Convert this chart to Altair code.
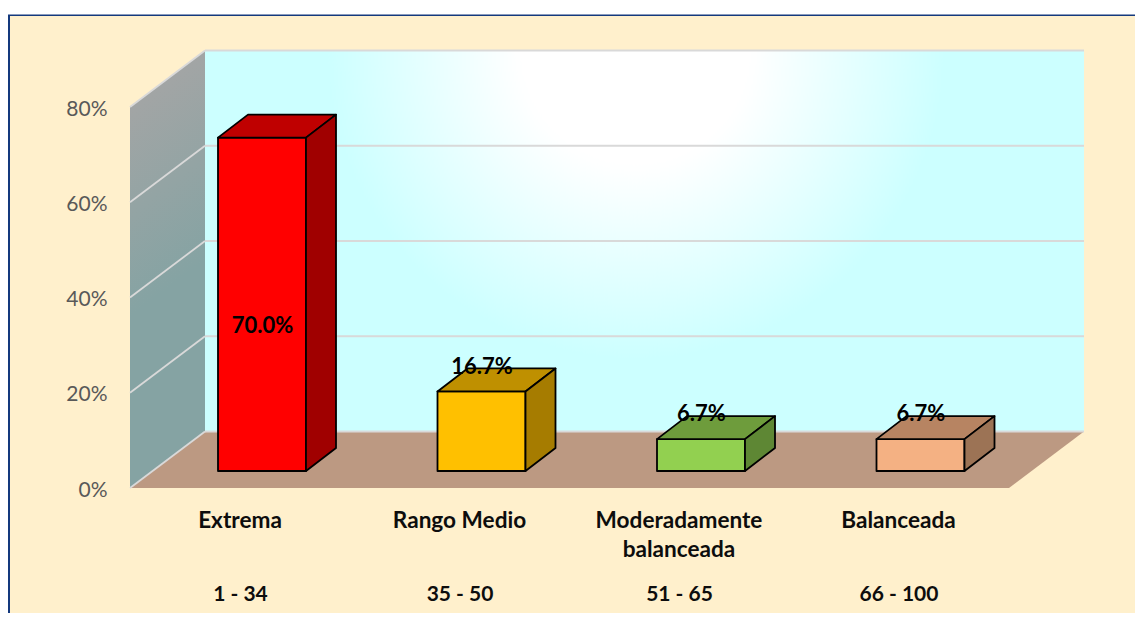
import altair as alt
import pandas as pd

# ---- chart values ----
categories = ["Extrema", "Rango Medio", "Moderadamente\nbalanceada", "Balanceada"]
ranges = ["1 - 34", "35 - 50", "51  - 65", "66 - 100"]
values = [70.0, 16.7, 6.7, 6.7]
value_labels = ["70.0%", "16.7%", "6.7%", "6.7%"]
label_heights = [30.4, 21.9, 11.9, 11.9]
front_colors = ["#FF0000", "#FFC000", "#92D050", "#F4B183"]
top_colors = ["#BF0000", "#BF9000", "#6E9C3C", "#B78462"]
side_colors = ["#A00000", "#A67C00", "#5E8734", "#9C7355"]
y_ticks = [0, 20, 40, 60, 80]

# ---- layout of the pseudo-3D box (page pixels) ----
W, H = 1127, 605
PPV = 381 / 80            # pixels per percentage point
Y0 = 488                  # page y of 0% on the front plane
X_FRONT, X_BACK, X_END = 130, 205, 1084
WALL_DV = 56.5 / PPV      # wall depth in value units
BAR_X = [218, 437.5, 657, 876.5]
BAR_W = 88
BAR_DX, BAR_DV = 30, 23 / PPV
BAR_BASE = (Y0 - 471) / PPV
FONT = "Lato"

x_scale = alt.Scale(domain=[8, 8 + W], range=[0, W], nice=False, zero=False)
y_scale = alt.Scale(domain=[(Y0 - 8 - H) / PPV, (Y0 - 8) / PPV], range=[H, 0], nice=False, zero=False)
y_axis = alt.Axis(
    values=y_ticks, labelExpr="datum.value + '%'", domain=False, ticks=False, grid=False,
    title=None, offset=-99, labelPadding=0, labelOffset=2, labelFont=FONT, labelFontSize=21,
    labelColor="#595959", labelFontWeight="normal", zindex=1,
)
X = alt.X("x:Q", scale=x_scale, axis=None)
Y = alt.Y("y:Q", scale=y_scale, axis=y_axis)
X2, Y2 = alt.X2("x2:Q"), alt.Y2("y2:Q")
v2p = lambda py: (Y0 - py) / PPV

panel = pd.DataFrame([
    {"x": 8, "x2": 8 + W, "y": v2p(14.5), "y2": v2p(8 + H), "c": "#14397D"},
    {"x": 10, "x2": 8 + W, "y": v2p(16), "y2": v2p(8 + H), "c": "#FFF0CC"},
])
panel_layer = alt.Chart(panel).mark_rect().encode(
    x=X, x2=X2, y=Y, y2=Y2, fill=alt.Fill("c:N", scale=None)
)

# back wall
wall = pd.DataFrame([{"x": X_BACK, "x2": X_END, "y": WALL_DV, "y2": 80 + WALL_DV}])
wall_layer = alt.Chart(wall).mark_rect(fill={
    "gradient": "radial", "x1": 0.49, "y1": 0.283, "r1": 0.13, "x2": 0.49, "y2": 0.283, "r2": 0.35,
    "stops": [{"offset": 0, "color": "#FFFFFF"}, {"offset": 1, "color": "#CCFFFF"}],
}).encode(x=X, x2=X2, y=Y, y2=Y2)

# left wall
left = pd.DataFrame([
    {"x": X_FRONT, "y": 0, "y2": 80},
    {"x": X_BACK, "y": WALL_DV, "y2": 80 + WALL_DV},
])
left_layer = alt.Chart(left).mark_area(fill={
    "gradient": "linear", "x1": 0, "y1": 0.13, "x2": 0.06, "y2": 0.6,
    "stops": [{"offset": 0, "color": "#A2A5A5"}, {"offset": 1, "color": "#85A3A3"}],
}).encode(x=X, y=Y, y2=Y2)

# floor
floor = pd.DataFrame([
    {"x": X_FRONT, "x2": X_FRONT + X_END - X_BACK, "y": 0},
    {"x": X_BACK, "x2": X_END, "y": WALL_DV},
])
floor_layer = alt.Chart(floor).mark_area(orient="horizontal", fill="#BC9982").encode(x=X, x2=X2, y=Y)

# grid lines on both walls
grid_rows = []
for t in y_ticks:
    grid_rows.append({"x": X_FRONT, "x2": X_BACK, "y": t, "y2": t + WALL_DV})
    grid_rows.append({"x": X_BACK, "x2": X_END, "y": t + WALL_DV, "y2": t + WALL_DV})
grid_layer = alt.Chart(pd.DataFrame(grid_rows)).mark_rule(color="#D9D9D9", strokeWidth=1.8).encode(
    x=X, x2=X2, y=Y, y2=Y2
)

# bars
front_rows, top_rows, side_rows, label_rows = [], [], [], []
for i, v in enumerate(values):
    x0, x1 = BAR_X[i], BAR_X[i] + BAR_W
    b, t = BAR_BASE, BAR_BASE + v
    front_rows.append({"x": x0, "x2": x1, "y": b, "y2": t, "c": front_colors[i]})
    top_rows += [
        {"k": i, "x": x0, "x2": x1, "y": t, "c": top_colors[i]},
        {"k": i, "x": x0 + BAR_DX, "x2": x1 + BAR_DX, "y": t + BAR_DV, "c": top_colors[i]},
    ]
    side_rows += [
        {"k": i, "x": x1, "y": b, "y2": t, "c": side_colors[i]},
        {"k": i, "x": x1 + BAR_DX, "y": b + BAR_DV, "y2": t + BAR_DV, "c": side_colors[i]},
    ]
    label_rows.append({"x": x0 + BAR_W / 2 + 0.5, "y": b + label_heights[i], "t": value_labels[i]})

STROKE = dict(stroke="#000000", strokeWidth=1.8, strokeJoin="round")
C = alt.Fill("c:N", scale=None)
front_layer = alt.Chart(pd.DataFrame(front_rows)).mark_rect(**STROKE).encode(x=X, x2=X2, y=Y, y2=Y2, fill=C)
top_layer = alt.Chart(pd.DataFrame(top_rows)).mark_area(orient="horizontal", **STROKE).encode(
    x=X, x2=X2, y=Y, fill=C, detail="k:N")
side_layer = alt.Chart(pd.DataFrame(side_rows)).mark_area(**STROKE).encode(
    x=X, y=Y, y2=Y2, fill=C, detail="k:N")

label_layer = alt.Chart(pd.DataFrame(label_rows)).mark_text(
    font=FONT, fontSize=22, fontWeight="bold", color="#000000", baseline="middle"
).encode(x=X, y=Y, text="t:N")

cat_rows = [{"x": BAR_X[i] + 22, "t": categories[i]} for i in range(4)]
cat_layer = alt.Chart(pd.DataFrame(cat_rows)).mark_text(
    font=FONT, fontSize=22.6, fontWeight="bold", color="#0D0D0D", baseline="middle",
    lineBreak="\n", lineHeight=29
).encode(x=X, y=alt.value(521 - 8), text="t:N")

rng_rows = [{"x": BAR_X[i] + 22.5, "t": ranges[i]} for i in range(4)]
rng_layer = alt.Chart(pd.DataFrame(rng_rows)).mark_text(
    font=FONT, fontSize=21, fontWeight="bold", color="#0D0D0D", baseline="middle"
).encode(x=X, y=alt.value(595 - 8), text="t:N")

chart = alt.layer(
    panel_layer, wall_layer, left_layer, floor_layer, grid_layer,
    front_layer, top_layer, side_layer,
    label_layer, cat_layer, rng_layer,
).properties(width=W, height=H, background="#FFFFFF", padding=0,
             autosize=alt.AutoSizeParams(type="none")).configure_view(stroke=None)

chart.save("out.html", embed_options={"renderer": "svg", "actions": False})
